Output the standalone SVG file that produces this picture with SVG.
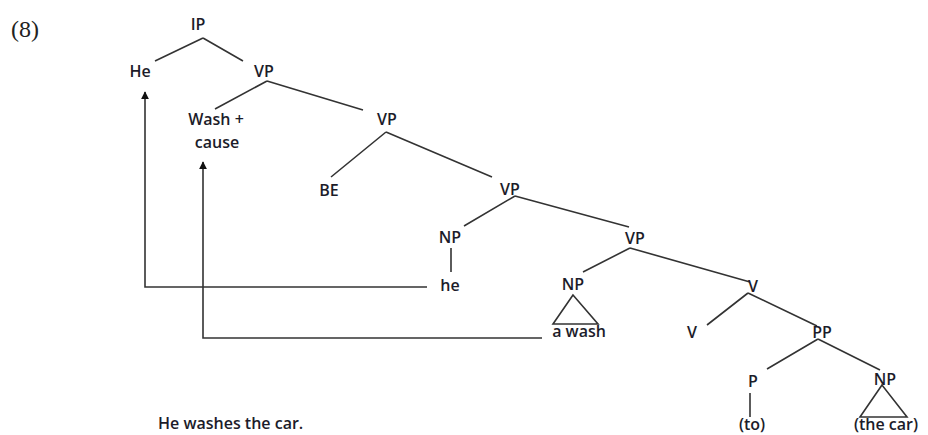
<svg xmlns="http://www.w3.org/2000/svg" width="928" height="435" viewBox="0 0 928 435">
<style>
.t{font-family:"Open Sans","Noto Sans","Liberation Sans",sans-serif;font-weight:600;font-size:16px;fill:#1c1c2a;text-anchor:middle}
.e{stroke:#333;stroke-width:1.6;fill:none}
</style>
<defs>
<marker id="ah" viewBox="0 0 10 10" refX="9" refY="5" markerWidth="8" markerHeight="8" markerUnits="userSpaceOnUse" orient="auto">
<path d="M0,0 L10,5 L0,10 z" fill="#111"/>
</marker>
</defs>
<rect width="928" height="435" fill="#fff"/>
<text x="11" y="37" font-family="'Liberation Serif','Times New Roman',serif" font-size="24" fill="#222">(8)</text>
<g id="connectors">
<path class="e" d="M203,38 L155,61 M203,38 L243,61"/>
<path class="e" d="M267,81 L215,109 M267,81 L363,110"/>
<path class="e" d="M386,132 L331,177 M386,132 L492,177"/>
<path class="e" d="M515,196 L464,226 M515,196 L629,227"/>
<path class="e" d="M451,248 L451,272"/>
<path class="e" d="M630,248 L583,272 M630,248 L750,282"/>
<path class="e" d="M573,295 L553,324 L598,324 Z"/>
<path class="e" d="M748,293 L707,325 M748,293 L817,326"/>
<path class="e" d="M818,339 L767,369 M818,339 L880,370"/>
<path class="e" d="M750,393 L750,417"/>
<path class="e" d="M882,385 L860,417 L907,417 Z"/>
<path class="e" d="M427,287 L145,287 L145,92" marker-end="url(#ah)"/>
<path class="e" d="M542,338 L203,338 L203,162" marker-end="url(#ah)"/>
</g>
<g id="n-ip"><text class="t" x="198" y="30">IP</text></g>
<g id="n-he"><text class="t" x="140" y="77">He</text></g>
<g id="n-vp1"><text class="t" x="264" y="77">VP</text></g>
<g id="n-washcause"><text class="t" x="216" y="125">Wash +</text><text class="t" x="217" y="148">cause</text></g>
<g id="n-vp2"><text class="t" x="387" y="125">VP</text></g>
<g id="n-be"><text class="t" x="329" y="196">BE</text></g>
<g id="n-vp3"><text class="t" x="510" y="195">VP</text></g>
<g id="n-np1"><text class="t" x="450" y="243">NP</text></g>
<g id="n-he2"><text class="t" x="450" y="291">he</text></g>
<g id="n-vp4"><text class="t" x="635" y="244">VP</text></g>
<g id="n-np2"><text class="t" x="573" y="290">NP</text></g>
<g id="n-awash"><text class="t" x="579" y="337">a wash</text></g>
<g id="n-v1"><text class="t" x="753" y="292">V</text></g>
<g id="n-v2"><text class="t" x="692" y="338">V</text></g>
<g id="n-pp"><text class="t" x="822" y="338">PP</text></g>
<g id="n-p"><text class="t" x="753" y="387">P</text></g>
<g id="n-to"><text class="t" x="752" y="430">(to)</text></g>
<g id="n-np3"><text class="t" x="885" y="385">NP</text></g>
<g id="n-thecar"><text class="t" x="886" y="430">(the car)</text></g>
<g id="caption"><text class="t" x="158" y="429" style="text-anchor:start">He washes the car.</text></g>
</svg>
